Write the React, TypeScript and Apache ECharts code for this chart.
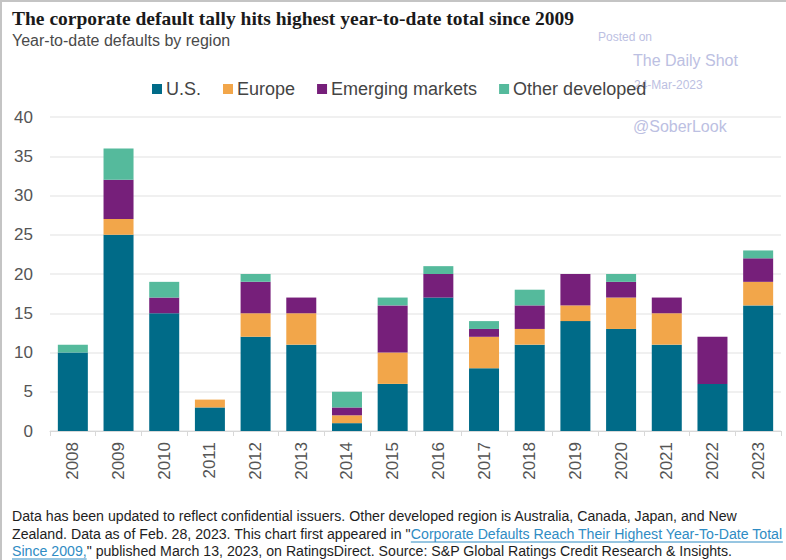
import React, { useEffect, useRef } from "react";
import * as echarts from "echarts";

const years = ["2008", "2009", "2010", "2011", "2012", "2013", "2014", "2015", "2016", "2017", "2018", "2019", "2020", "2021", "2022", "2023"];
const usValues = [10, 25, 15, 3, 12, 11, 1, 6, 17, 8, 11, 14, 13, 11, 6, 16];
const europeValues = [0, 2, 0, 1, 3, 4, 1, 4, 0, 4, 2, 2, 4, 4, 0, 3];
const emergingValues = [0, 5, 2, 0, 4, 2, 1, 6, 3, 1, 3, 4, 2, 2, 6, 3];
const otherDevValues = [1, 4, 2, 0, 1, 0, 2, 1, 1, 1, 2, 0, 1, 0, 0, 1];
const seriesNames = ["U.S.", "Europe", "Emerging markets", "Other developed"];
const seriesColors = ["#006b88", "#f2a64a", "#761f7a", "#55ba9c"];

const TITLE = "The corporate default tally hits highest year-to-date total since 2009";
const SUBTITLE = "Year-to-date defaults by region";
const NOTE1 = "Data has been updated to reflect confidential issuers. Other developed region is Australia, Canada, Japan, and New";
const NOTE2A = "Zealand. Data as of Feb. 28, 2023. This chart first appeared in \"";
const NOTE2B = "Corporate Defaults Reach Their Highest Year-To-Date Total";
const NOTE3A = "Since 2009,";
const NOTE3B = "\" published March 13, 2023, on RatingsDirect. Source: S&P Global Ratings Credit Research & Insights.";

const NOTE_FONT = "Liberation Sans";
const NOTE_SIZE = 14.15;

function measure(text: string, font: string): number {
  const c = document.createElement("canvas");
  const ctx = c.getContext("2d");
  if (!ctx) return text.length * 7;
  ctx.font = font;
  return ctx.measureText(text).width;
}

export default function App() {
  const ref = useRef<HTMLDivElement>(null);
  useEffect(() => {
    if (!ref.current) return;
    const chart = echarts.init(ref.current, undefined, { renderer: "svg" });
    const noteFont = `${NOTE_SIZE}px "${NOTE_FONT}"`;
    const w2a = measure(NOTE2A, noteFont);
    const w2b = measure(NOTE2B, noteFont);
    const w3a = measure(NOTE3A, noteFont);
    const noteColor = "#1e1e1e";
    const linkColor = "#2f8cc4";
    const dataSets = [usValues, europeValues, emergingValues, otherDevValues];
    const wmColor = "#bcc0e2";
    chart.setOption({
      animation: false,
      backgroundColor: "#ffffff",
      title: [
        {
          text: TITLE,
          left: 12,
          top: 8,
          padding: 0,
          textStyle: { fontFamily: "Liberation Serif", fontSize: 19.5, fontWeight: 600, color: "#1a1a1a" },
        },
        {
          text: SUBTITLE,
          left: 12,
          top: 32,
          padding: 0,
          textStyle: { fontFamily: "Liberation Sans", fontSize: 16, fontWeight: "normal", color: "#4a4a4a" },
        },
      ],
      legend: {
        left: 152,
        top: 80,
        padding: 0,
        itemWidth: 10,
        itemHeight: 10,
        itemGap: 22,
        icon: "rect",
        data: seriesNames,
        textStyle: { fontFamily: "Liberation Sans", fontSize: 18, color: "#444", padding: [0, 0, 0, -1] },
      },
      grid: { left: 50, right: 5, top: 117, bottom: 129, containLabel: false },
      xAxis: {
        type: "category",
        data: years,
        axisLine: { lineStyle: { color: "#d8d8d8", width: 1 } },
        axisTick: { show: true, alignWithLabel: false, length: 5, lineStyle: { color: "#d8d8d8" } },
        axisLabel: { rotate: 90, margin: 11, fontFamily: "Liberation Sans", fontSize: 17, color: "#555" },
      },
      yAxis: {
        type: "value",
        min: 0,
        max: 40,
        interval: 5,
        axisLine: { show: false },
        axisTick: { show: false },
        splitLine: { lineStyle: { color: "#ebebeb", width: 1.5 } },
        axisLabel: { margin: 17, fontFamily: "Liberation Sans", fontSize: 17, color: "#555" },
      },
      series: seriesNames.map((name, i) => ({
        name,
        type: "bar",
        stack: "total",
        data: dataSets[i],
        barWidth: 30,
        itemStyle: { color: seriesColors[i] },
      })),
      graphic: [
        { type: "line", shape: { x1: 0, y1: 1, x2: 786, y2: 1 }, style: { stroke: "#c4c4c4", lineWidth: 2 } },
        { type: "line", shape: { x1: 1, y1: 0, x2: 1, y2: 560 }, style: { stroke: "#c4c4c4", lineWidth: 2 } },
        { type: "text", x: 598, y: 37, style: { text: "Posted on", font: '12px "Liberation Sans"', fill: wmColor, verticalAlign: "middle" } },
        { type: "text", x: 633, y: 60, style: { text: "The Daily Shot", font: '16px "Liberation Sans"', fill: wmColor, verticalAlign: "middle" } },
        { type: "text", x: 634, y: 85, style: { text: "24-Mar-2023", font: '12px "Liberation Sans"', fill: wmColor, verticalAlign: "middle" } },
        { type: "text", x: 633, y: 126, style: { text: "@SoberLook", font: '16px "Liberation Sans"', fill: wmColor, verticalAlign: "middle" } },
        { type: "text", x: 12, y: 516, style: { text: NOTE1, font: noteFont, fill: noteColor, verticalAlign: "middle" } },
        { type: "text", x: 12, y: 534, style: { text: NOTE2A, font: noteFont, fill: noteColor, verticalAlign: "middle" } },
        { type: "text", x: 12 + w2a, y: 534, style: { text: NOTE2B, font: noteFont, fill: linkColor, verticalAlign: "middle" } },
        { type: "line", shape: { x1: 12 + w2a, y1: 542, x2: 12 + w2a + w2b, y2: 542 }, style: { stroke: linkColor, lineWidth: 1 } },
        { type: "text", x: 12, y: 551, style: { text: NOTE3A, font: noteFont, fill: linkColor, verticalAlign: "middle" } },
        { type: "line", shape: { x1: 12, y1: 559, x2: 12 + w3a, y2: 559 }, style: { stroke: linkColor, lineWidth: 1 } },
        { type: "text", x: 12 + w3a, y: 551, style: { text: NOTE3B, font: noteFont, fill: noteColor, verticalAlign: "middle" } },
      ],
    });
    return () => chart.dispose();
  }, []);
  return <div ref={ref} style={{ position: "fixed", left: 0, top: 0, width: 786, height: 560 }} />;
}
